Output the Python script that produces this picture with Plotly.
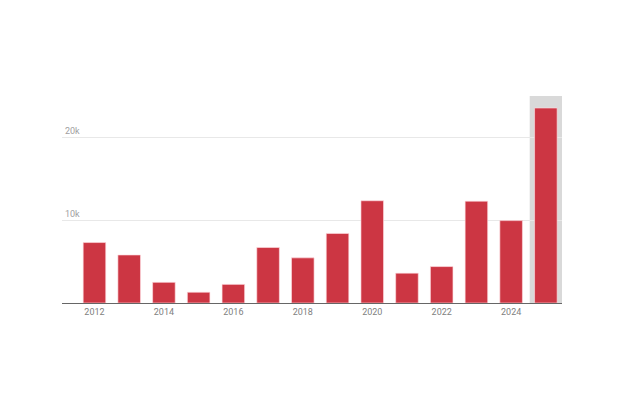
import plotly.graph_objects as go

years = [2012, 2013, 2014, 2015, 2016, 2017, 2018, 2019, 2020, 2021, 2022, 2023, 2024, 2025]
values = [7300, 5800, 2500, 1300, 2250, 6700, 5450, 8400, 12350, 3600, 4400, 12300, 9950, 23550]
y_tickvals = [10000, 20000]
y_ticktext = ["10k", "20k"]
x_tickvals = [2012, 2014, 2016, 2018, 2020, 2022, 2024]
highlight_year = 2025

fig = go.Figure()
fig.add_trace(go.Bar(
    x=years, y=values,
    marker=dict(color="#cc3643", line=dict(color="rgba(255,220,225,0.8)", width=0.8)),
    width=0.65,
    hoverinfo="skip",
))

fig.add_shape(type="rect", xref="x", yref="paper",
              x0=highlight_year - 0.465, x1=highlight_year + 0.465, y0=0, y1=1,
              fillcolor="#d9d9d9", line=dict(width=0), layer="below")

fig.update_layout(
    width=616, height=408,
    margin=dict(l=54, r=62, t=88, b=113),
    paper_bgcolor="white", plot_bgcolor="white",
    showlegend=False,
    font=dict(family="Roboto, sans-serif", size=9, color="#888888"),
    xaxis=dict(
        range=[2011.065, 2025.465],
        tickvals=x_tickvals,
        ticktext=[str(v) for v in x_tickvals],
        showgrid=False, zeroline=False,
        showline=True, linecolor="#666666", linewidth=1,
        ticks="", ticklen=0,
        tickfont=dict(size=9, color="#808080"),
    ),
    yaxis=dict(
        range=[0, 25000],
        tickvals=y_tickvals, ticktext=y_ticktext,
        showgrid=True, gridcolor="#e8e8e8", gridwidth=1,
        zeroline=False, showline=False,
        ticklabelposition="inside top",
        tickfont=dict(size=9, color="#a0a0a0"),
        ticks="",
    ),
)

fig.write_html("out.html")
